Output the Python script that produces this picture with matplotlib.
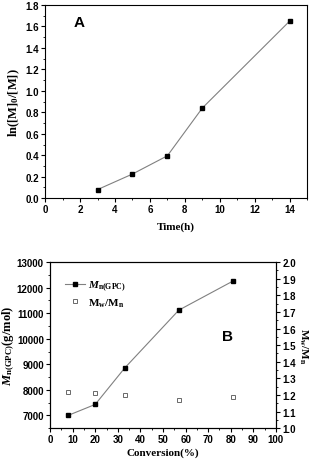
import matplotlib
matplotlib.use("Agg")
import matplotlib.pyplot as plt
from matplotlib.ticker import MultipleLocator

# Panel A data
time_h = [3, 5, 7, 9, 14]
ln_m0_m = [0.08, 0.225, 0.395, 0.84, 1.65]

# Panel B data
conversion = [8, 20, 33, 57, 81]
mn_gpc = [7000, 7430, 8850, 11120, 12260]
pdi = [1.215, 1.21, 1.20, 1.17, 1.185]

plt.rcParams["font.family"] = "Liberation Sans"
plt.rcParams["font.weight"] = "bold"
plt.rcParams["font.size"] = 7
plt.rcParams["mathtext.fontset"] = "custom"
plt.rcParams["mathtext.rm"] = "Liberation Serif:bold"
plt.rcParams["mathtext.it"] = "Liberation Serif:italic:bold"
plt.rcParams["mathtext.bf"] = "Liberation Serif:bold"
serif = {"family": "Liberation Serif", "weight": "bold", "size": 8}
serif_big = {"family": "Liberation Serif", "weight": "bold", "size": 9}

fig = plt.figure(figsize=(3.09, 4.60), dpi=100)

# Panel A
ax1 = fig.add_axes([0.146, 0.567, 0.848, 0.42])
ax1.plot(time_h, ln_m0_m, color="gray", linewidth=0.8, marker="s",
         markersize=3.5, markerfacecolor="black", markeredgecolor="black")
ax1.set_xlim(0, 15)
ax1.set_ylim(0, 1.8)
ax1.xaxis.set_major_locator(MultipleLocator(2))
ax1.xaxis.set_minor_locator(MultipleLocator(1))
ax1.yaxis.set_major_locator(MultipleLocator(0.2))
ax1.yaxis.set_minor_locator(MultipleLocator(0.1))
ax1.yaxis.set_major_formatter(plt.FormatStrFormatter("%.1f"))
ax1.tick_params(which="major", direction="out", length=3, width=0.8, pad=1.5)
ax1.tick_params(which="minor", direction="out", length=1.5, width=0.6)
ax1.set_xlabel("Time(h)", fontdict=serif, labelpad=5)
ax1.set_ylabel(r"$\mathrm{ln([M]_0/[M])}$", fontdict=serif_big, labelpad=2)
ax1.text(0.11, 0.89, "A", transform=ax1.transAxes, fontsize=11, fontweight="bold")

# Panel B
ax2 = fig.add_axes([0.162, 0.067, 0.731, 0.361])
ax2.plot(conversion, mn_gpc, color="gray", linewidth=0.8, marker="s",
         markersize=3.5, markerfacecolor="black", markeredgecolor="black",
         label=r"$M_{\mathrm{n(GPC)}}$")
ax2.set_xlim(0, 100)
ax2.set_ylim(6500, 13000)
ax2.xaxis.set_major_locator(MultipleLocator(10))
ax2.xaxis.set_minor_locator(MultipleLocator(5))
ax2.yaxis.set_major_locator(MultipleLocator(1000))
ax2.yaxis.set_minor_locator(MultipleLocator(500))
ax2.tick_params(which="major", direction="out", length=3, width=0.8, pad=1.5)
ax2.tick_params(which="minor", direction="out", length=1.5, width=0.6)
ax2.set_xlabel("Conversion(%)", fontdict=serif, labelpad=2)
ax2.set_ylabel(r"$M_{\mathrm{n(GPC)}}\mathrm{(g/mol)}$", fontdict=serif_big, labelpad=0)
ax2.text(0.76, 0.53, "B", transform=ax2.transAxes, fontsize=11, fontweight="bold")

ax3 = ax2.twinx()
ax3.plot(conversion, pdi, linestyle="none", marker="s", markersize=3.5,
         markerfacecolor="white", markeredgecolor="dimgray", markeredgewidth=0.7,
         label=r"$\mathrm{M_w/M_n}$")
ax3.set_ylim(1.0, 2.0)
ax3.yaxis.set_major_locator(MultipleLocator(0.1))
ax3.yaxis.set_minor_locator(MultipleLocator(0.05))
ax3.yaxis.set_major_formatter(plt.FormatStrFormatter("%.1f"))
ax3.tick_params(which="major", direction="out", length=3, width=0.8, pad=1.5)
ax3.tick_params(which="minor", direction="out", length=1.5, width=0.6)
ax3.set_ylabel(r"$\mathrm{M_w/M_n}$", fontdict=serif, rotation=270, labelpad=10)

h1, l1 = ax2.get_legend_handles_labels()
h2, l2 = ax3.get_legend_handles_labels()
ax2.legend(h1 + h2, l1 + l2, loc="upper left", bbox_to_anchor=(0.02, 0.96),
           frameon=False, prop={"family": "Liberation Serif", "weight": "bold", "size": 8},
           handlelength=1.8, handletextpad=0.3, labelspacing=0.3)

fig.savefig("out.png", dpi=100)
